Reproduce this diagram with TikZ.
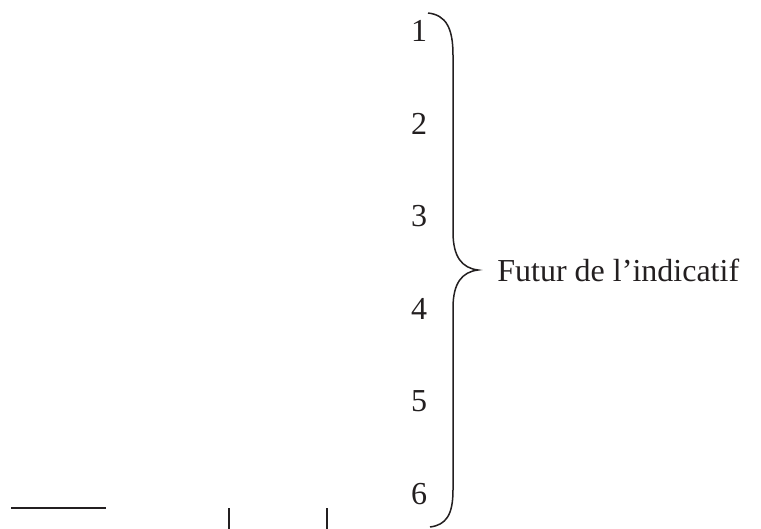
\documentclass[tikz,border=0pt]{standalone}
\usepackage{fontspec}
\setmainfont{Liberation Serif}
\usepackage{xcolor}
\definecolor{ink}{HTML}{231f20}

\begin{document}
\begin{tikzpicture}[x=0.5pt,y=-0.5pt,font=\fontsize{16pt}{19pt}\selectfont,
  every node/.style={text=ink,inner sep=0pt},
  brace/.style={ink,line width=0.75pt},
  rule/.style={ink,line width=0.55pt}]
  \useasboundingbox (0,0) rectangle (761,529);
  % numbers
  \foreach \n in {1,...,6} {
    \node (n\n) at (419,{31+(\n-1)*92.6}) {\n};
  }
  \coordinate (tip) at (478,270);
  \node[anchor=west] (fut) at (497,270) {Futur de l’indicatif};
  % brace
  \draw[brace] (428,13) .. controls (446,15) and (453,28) .. (453,55)
    -- (453,232) .. controls (453,257) and (462,268) .. (tip)
    .. controls (462,272) and (453,283) .. (453,308)
    -- (453,490) .. controls (453,515) and (446,525) .. (430,527);
  % lines at the foot
  \draw[rule] (11,508) -- (106,508);
  \draw[rule] (229,508) -- (229,529);
  \draw[rule] (327,508) -- (327,529);
\end{tikzpicture}
\end{document}
